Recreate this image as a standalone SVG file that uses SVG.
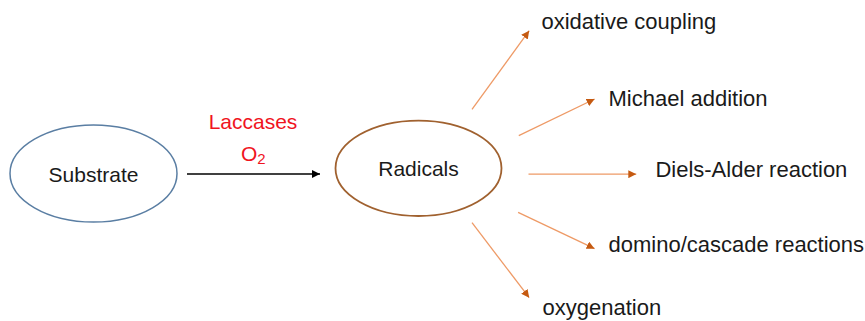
<svg xmlns="http://www.w3.org/2000/svg" width="865" height="321" viewBox="0 0 865 321">
<defs>
<marker id="ah-black" viewBox="0 0 10 10" refX="10" refY="5" markerWidth="8" markerHeight="8" markerUnits="userSpaceOnUse" orient="auto">
<path d="M0,0 L10,5 L0,10 Z" fill="#000"/>
</marker>
<marker id="ah-orange" viewBox="0 0 10 10" refX="10" refY="5" markerWidth="8" markerHeight="8" markerUnits="userSpaceOnUse" orient="auto">
<path d="M0,0 L10,5 L0,10 Z" fill="#c55a11"/>
</marker>
</defs>
<style>
text { font-family: "Liberation Sans", Arial, sans-serif; font-size: 21px; fill: #1a1a1a; }
.out-t { font-size: 22px; }
.red { fill: #f0141e; }
.out { stroke: #ee9a66; stroke-width: 1.3; fill: none; marker-end: url(#ah-orange); }
</style>
<rect width="865" height="321" fill="#fff"/>
<g id="substrate">
<ellipse cx="93.5" cy="173.5" rx="83.5" ry="48.5" fill="none" stroke="#5a7ea3" stroke-width="1.5"/>
<text x="93.5" y="182" text-anchor="middle">Substrate</text>
</g>
<g id="radicals">
<ellipse cx="418.5" cy="168.3" rx="83" ry="47.7" fill="none" stroke="#a0612f" stroke-width="1.8"/>
<text x="418.5" y="176" text-anchor="middle">Radicals</text>
</g>
<g id="label-laccases">
<text class="red" x="253" y="129.3" text-anchor="middle">Laccases</text>
<text class="red" x="241" y="161">O<tspan font-size="15" dy="3">2</tspan></text>
</g>
<g id="connectors">
<line x1="187" y1="174" x2="320" y2="174" stroke="#000" stroke-width="1.6" marker-end="url(#ah-black)"/>
<line class="out" x1="472" y1="109.3" x2="529.2" y2="30.7"/>
<line class="out" x1="518.8" y1="135.7" x2="594.6" y2="99"/>
<line class="out" x1="528.5" y1="174.2" x2="636.3" y2="174.2"/>
<line class="out" x1="518.1" y1="212.3" x2="594.6" y2="248.7"/>
<line class="out" x1="472" y1="222.7" x2="529.2" y2="297.7"/>
</g>
<g id="out-oxidative"><text class="out-t" x="541.4" y="29">oxidative coupling</text></g>
<g id="out-michael"><text class="out-t" x="608.5" y="106">Michael addition</text></g>
<g id="out-diels"><text class="out-t" x="655.4" y="176.7">Diels-Alder reaction</text></g>
<g id="out-domino"><text class="out-t" x="608.5" y="251.7">domino/cascade reactions</text></g>
<g id="out-oxygenation"><text class="out-t" x="542.5" y="315">oxygenation</text></g>
</svg>
